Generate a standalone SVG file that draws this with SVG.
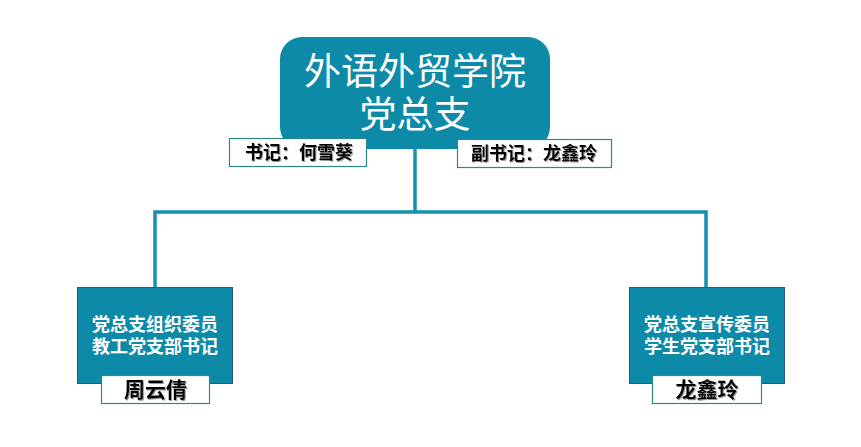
<svg xmlns="http://www.w3.org/2000/svg" width="861" height="447" viewBox="0 0 861 447">
  <defs>
    <filter id="sh" x="-10%" y="-20%" width="120%" height="140%">
      <feDropShadow dx="1" dy="1" stdDeviation="0.6" flood-color="#808080" flood-opacity="0.8"/>
    </filter>
  </defs>
  <style>
    .box{fill:#0e8aa9;}
    .sub{fill:#0e8aa9;stroke:#2f5496;stroke-width:1;}
    .lbl{fill:#ffffff;stroke:#2a8a84;stroke-width:1.2;}
    .conn{stroke:#1590b0;stroke-width:3.5;fill:none;}
    .t-main{font-family:"Noto Sans CJK SC","Noto Sans",sans-serif;font-size:37px;fill:#ffffff;text-anchor:middle;}
    .t-sub{font-family:"Noto Sans CJK SC","Noto Sans",sans-serif;font-size:18px;font-weight:bold;fill:#ffffff;text-anchor:middle;}
    .t-lbl{font-family:"Noto Sans CJK SC","Noto Sans",sans-serif;font-size:18px;font-weight:bold;fill:#000000;text-anchor:middle;}
    .t-name{font-family:"Noto Sans CJK SC","Noto Sans",sans-serif;font-size:21px;font-weight:bold;fill:#000000;text-anchor:middle;}
  </style>
  <rect width="861" height="447" fill="#ffffff"/>
  <g id="connectors">
    <path class="conn" d="M415,148 V212 M155,212 H706 M155,210.25 V288 M706,210.25 V288"/>
  </g>
  <g id="root">
    <rect class="box" x="280" y="37" width="270" height="112" rx="22" ry="22"/>
    <text class="t-main" x="415" y="85">外语外贸学院</text>
    <text class="t-main" x="415" y="128">党总支</text>
  </g>
  <g id="secretary">
    <rect class="lbl" x="229.5" y="138.5" width="137" height="28"/>
    <text class="t-lbl" x="299" y="159" filter="url(#sh)">书记：何雪葵</text>
  </g>
  <g id="deputy">
    <rect class="lbl" x="457.5" y="139.5" width="154" height="28"/>
    <text class="t-lbl" x="534" y="160" filter="url(#sh)">副书记：龙鑫玲</text>
  </g>
  <g id="left">
    <rect class="sub" x="77.5" y="287.5" width="155" height="96"/>
    <text class="t-sub" x="155" y="331">党总支组织委员</text>
    <text class="t-sub" x="155" y="353">教工党支部书记</text>
    <rect class="lbl" x="101.5" y="375.5" width="108" height="28"/>
    <text class="t-name" x="155.5" y="397" filter="url(#sh)">周云倩</text>
  </g>
  <g id="right">
    <rect class="sub" x="629.5" y="287.5" width="155" height="96"/>
    <text class="t-sub" x="707" y="331">党总支宣传委员</text>
    <text class="t-sub" x="707" y="353">学生党支部书记</text>
    <rect class="lbl" x="652.5" y="375.5" width="109" height="28"/>
    <text class="t-name" x="707" y="397" filter="url(#sh)">龙鑫玲</text>
  </g>
</svg>
